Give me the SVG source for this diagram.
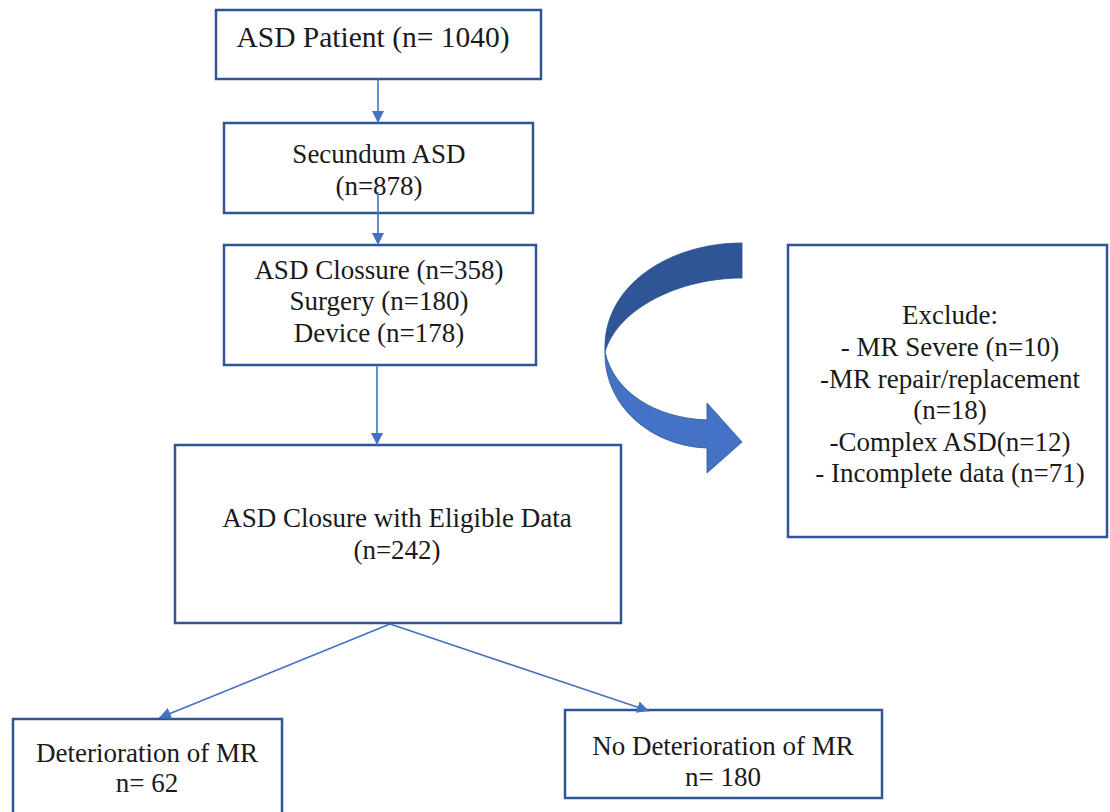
<svg xmlns="http://www.w3.org/2000/svg" width="1110" height="812" viewBox="0 0 1110 812">
  <defs>
    <style>
      .box { fill: #ffffff; stroke: #2F5597; stroke-width: 2.5; }
      .lbl { font-size: 27px; fill: #1a1a1a; text-anchor: middle; }
      .conn { stroke: #4472C4; stroke-width: 1.6; fill: none; marker-end: url(#ah); }
    </style>
    <marker id="ah" viewBox="0 0 12 12" refX="12" refY="6" markerWidth="12" markerHeight="12" markerUnits="userSpaceOnUse" orient="auto">
      <path d="M0,0 L12,6 L0,12 Z" fill="#4472C4"/>
    </marker>
  </defs>
  <rect width="1110" height="812" fill="#ffffff"/>

  <g font-family="Liberation Serif, DejaVu Serif, serif">
  <g id="n1">
    <rect class="box" x="216" y="10" width="325" height="69"/>
    <text class="lbl" x="373" y="47" style="font-size:29.5px">ASD Patient (n= 1040)</text>
  </g>
  <g id="n2">
    <rect class="box" x="224" y="123" width="309" height="90"/>
    <text class="lbl" x="379" y="163">Secundum ASD</text>
    <text class="lbl" x="379" y="195">(n=878)</text>
  </g>
  <g id="n3">
    <rect class="box" x="224" y="245" width="312" height="120"/>
    <text class="lbl" x="379" y="279">ASD Clossure (n=358)</text>
    <text class="lbl" x="379" y="310">Surgery (n=180)</text>
    <text class="lbl" x="379" y="342">Device (n=178)</text>
  </g>
  <g id="n4">
    <rect class="box" x="175" y="445" width="446" height="178"/>
    <text class="lbl" x="397" y="527">ASD Closure with Eligible Data</text>
    <text class="lbl" x="397" y="559">(n=242)</text>
  </g>
  <g id="n5">
    <rect class="box" x="788" y="245" width="319" height="292"/>
    <text class="lbl" x="950" y="324">Exclude:</text>
    <text class="lbl" x="950" y="356">- MR Severe (n=10)</text>
    <text class="lbl" x="950" y="388">-MR repair/replacement</text>
    <text class="lbl" x="950" y="419">(n=18)</text>
    <text class="lbl" x="950" y="451">-Complex ASD(n=12)</text>
    <text class="lbl" x="950" y="482">- Incomplete data (n=71)</text>
  </g>
  <g id="n6">
    <rect class="box" x="13" y="719" width="269" height="110"/>
    <text class="lbl" x="147" y="762">Deterioration of MR</text>
    <text class="lbl" x="147" y="792">n= 62</text>
  </g>
  <g id="n7">
    <rect class="box" x="565" y="710" width="317" height="88"/>
    <text class="lbl" x="723" y="755">No Deterioration of MR</text>
    <text class="lbl" x="723" y="786">n= 180</text>
  </g>
  </g>

  <g id="curved-arrow">
    <path d="M742,243 C670,243 602,285 605,352 C618,308 680,278 742,278 Z" fill="#2F5597" stroke="#2a4f8f" stroke-width="0.8"/>
    <path d="M605,352 C604,405 650,446 707,448 L707,473 L742,442 L707,403 L707,420 C655,418 614,392 605,352 Z" fill="#4472C4" stroke="#2F5597" stroke-width="0.8"/>
  </g>

  <g id="connectors">
    <line class="conn" x1="378" y1="79" x2="378" y2="123"/>
    <line class="conn" x1="378" y1="192" x2="378" y2="245"/>
    <line class="conn" x1="377" y1="365" x2="377" y2="445"/>
    <line class="conn" x1="390" y1="624" x2="159" y2="718"/>
    <line class="conn" x1="390" y1="624" x2="649" y2="711"/>
  </g>
</svg>
